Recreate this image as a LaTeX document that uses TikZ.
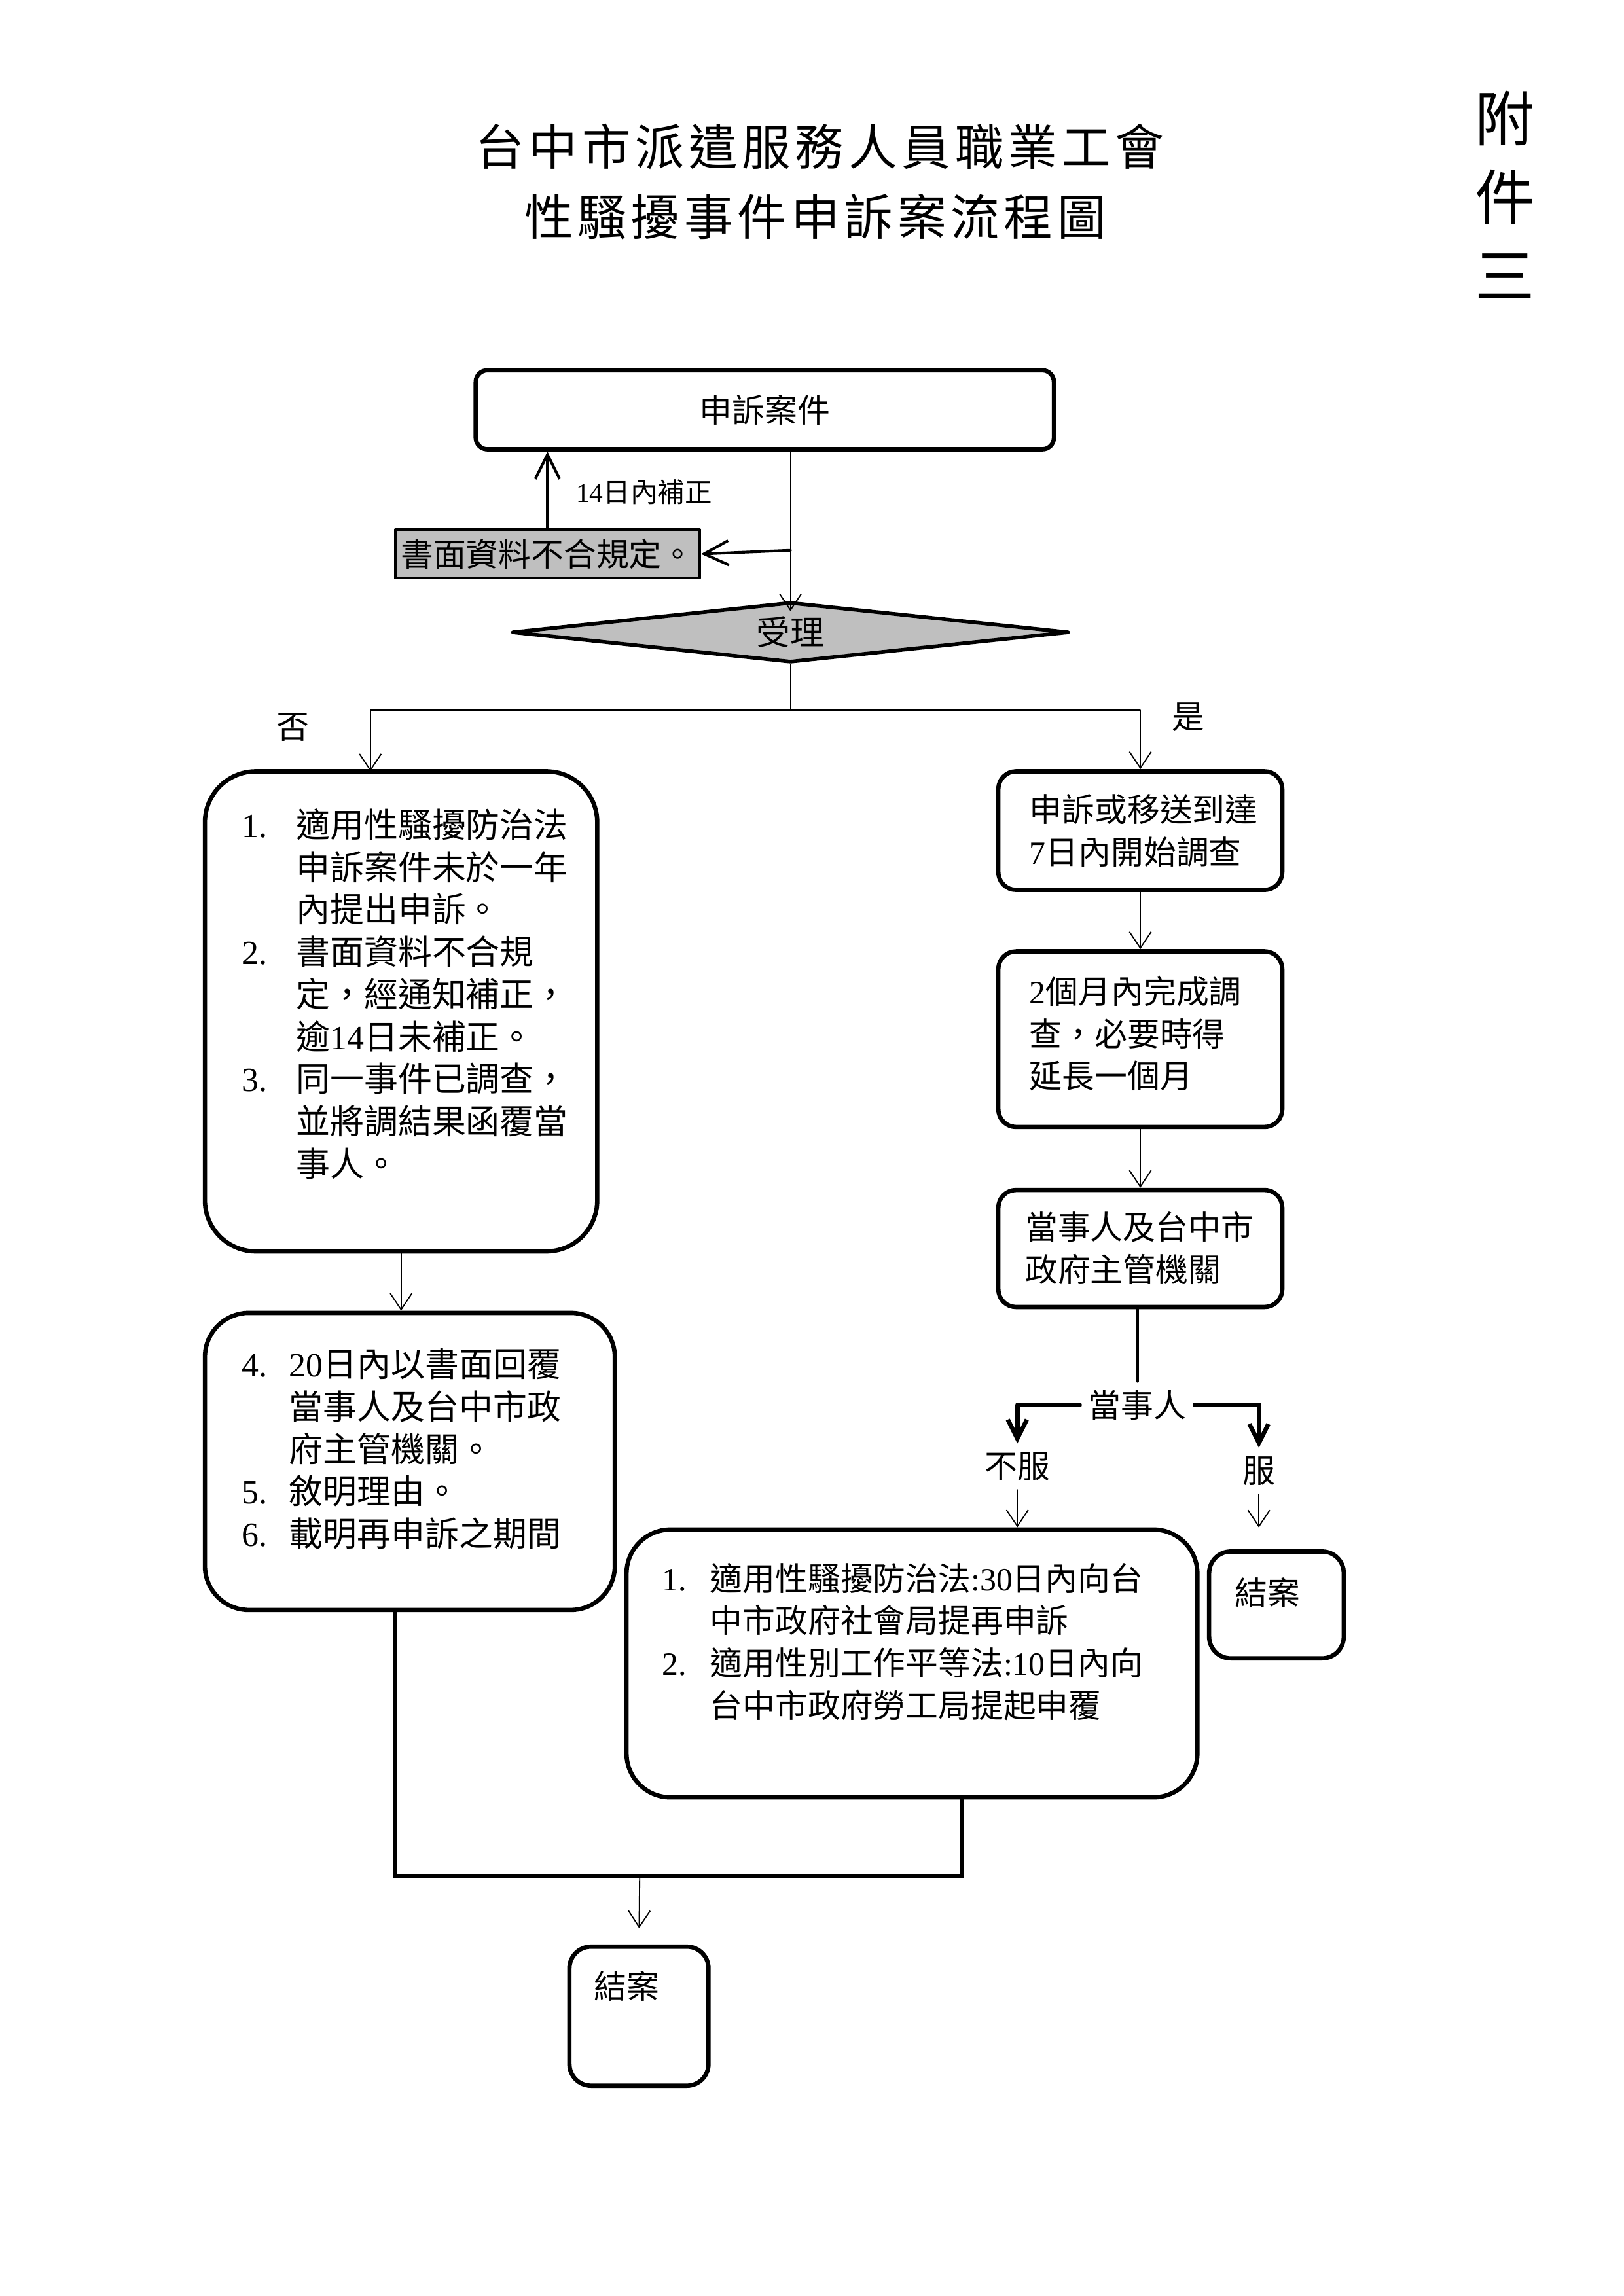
\documentclass[tikz,border=0pt]{standalone}
\usepackage{fontspec}
\setmainfont{Noto Sans CJK TC}
\newfontfamily\tnr{Liberation Serif}
\newfontfamily\titlefont[LetterSpace=9]{Noto Sans CJK TC}
\usepackage{tikz}
\usetikzlibrary{arrows.meta}
\usetikzlibrary{shapes.geometric}
\usetikzlibrary{fit}

\begin{document}
\begin{tikzpicture}[line cap=round,line join=round,x=0.018936cm,y=-0.018936cm,
  box/.style={draw,line width=1.6pt,rounded corners=#1,inner sep=0pt},
  box/.default=4pt,
  greybox/.style={draw,line width=1pt,fill=black!25,inner sep=0pt},
  txt/.style={inner sep=0pt,font=\fontsize{12}{15.6}\selectfont},
  bigtxt/.style={inner sep=0pt,font=\fontsize{12.5}{15.6}\selectfont},
  lbl/.style={inner sep=3pt,font=\fontsize{12}{15.6}\selectfont},
  titletxt/.style={inner sep=0pt,font=\titlefont\fontsize{18}{22}\selectfont},
  arr/.style={-{Straight Barb[length=6pt,width=8pt]},line width=0.45pt},
  arrbig/.style={-{Straight Barb[length=9pt,width=9pt]},line width=1pt},
  arrbold/.style={-{Straight Barb[length=7pt,width=7pt]},line width=1.6pt},
  joinline/.style={line width=1.7pt,line cap=butt}]
%  \draw[step=50,gray,very thin] (0,0) grid (1109,1568);

\useasboundingbox (0,0) rectangle (1109,1568.7);

\node[titletxt] (title1) at (560,100) {台中市派遣服務人員職業工會};
\node[titletxt] (title2) at (557,148) {性騷擾事件申訴案流程圖};
\node[inner sep=0pt,align=center,font=\fontsize{22}{29}\selectfont] (annex) at (1028,133) {附\\件\\三};

% top part
\node[box=4.3pt,fit={(325,253) (720,307)}] (case) {};
\node[txt] (casetext) at (case.center) {申訴案件};

\node[greybox,fit={(270,362) (478,395)}] (doc) {};
\node[txt] (doctext) at (doc.center) {書面資料不合規定。};

\node[diamond,draw,line width=1.35pt,fill=black!25,minimum width=7.2cm,minimum height=0.78cm,inner sep=0pt] (accept) at (540,432) {};
\node[bigtxt] (accepttext) at (accept.center) {受理};

\node[inner sep=0pt,font=\fontsize{10}{12}\selectfont] (within) at (440,336) {{\tnr 14}日內補正};

% left branch
\node[box=0.66cm,fit={(140,527) (408,855)}] (rule1) {};
\node[bigtxt,anchor=north west] (rule1text) at (165,551.5) {%
\begin{tabular}{@{}p{0.70cm}@{}l@{}}
{\tnr 1.} & 適用性騷擾防治法\\
 & 申訴案件未於一年\\
 & 內提出申訴。\\
{\tnr 2.} & 書面資料不合規\\
 & 定，經通知補正，\\
 & 逾{\tnr 14}日未補正。\\
{\tnr 3.} & 同一事件已調查，\\
 & 並將調結果函覆當\\
 & 事人。
\end{tabular}};

\node[box=0.57cm,fit={(140,897) (420,1100)}] (reply) {};
\node[bigtxt,anchor=north west] (replytext) at (165,920) {%
\begin{tabular}{@{}p{0.61cm}@{}l@{}}
{\tnr 4.} & {\tnr 20}日內以書面回覆\\
 & 當事人及台中市政\\
 & 府主管機關。\\
{\tnr 5.} & 敘明理由。\\
{\tnr 6.} & 載明再申訴之期間
\end{tabular}};

% right branch
\node[box=0.23cm,fit={(682,527) (876,608)}] (start) {};
\node[txt,anchor=north west] (starttext) at (703,541) {%
\begin{tabular}{@{}l@{}}
申訴或移送到達\\
{\tnr 7}日內開始調查
\end{tabular}};

\node[box=0.23cm,fit={(682,650) (876,770)}] (invest) {};
\node[txt,anchor=north west] (investtext) at (703,665) {%
\begin{tabular}{@{}l@{}}
{\tnr 2}個月內完成調\\
查，必要時得\\
延長一個月
\end{tabular}};

\node[box=0.23cm,fit={(682,813) (876,893)}] (notify) {};
\node[txt,anchor=north west] (notifytext) at (700,826) {%
\begin{tabular}{@{}l@{}}
當事人及台中市\\
政府主管機關
\end{tabular}};

\node[box=0.57cm,fit={(428,1045) (818,1228)}] (appeal) {};
\node[txt,anchor=north west] (appealtext) at (452,1066) {%
\begin{tabular}{@{}p{0.62cm}@{}l@{}}
{\tnr 1.} & 適用性騷擾防治法{\tnr :30}日內向台\\
 & 中市政府社會局提再申訴\\
{\tnr 2.} & 適用性別工作平等法{\tnr :10}日內向\\
 & 台中市政府勞工局提起申覆
\end{tabular}};

\node[box=0.28cm,fit={(826,1060) (918,1133)}] (closeA) {};
\node[txt] (closeAtext) at (866,1088) {結案};

\node[box=0.28cm,fit={(389,1330) (484,1425)}] (closeB) {};
\node[txt] (closeBtext) at (428,1357) {結案};

% labels
\node[lbl] (no) at (200,497) {否};
\node[lbl] (yes) at (812,490) {是};
\node[lbl] (party) at (777,960) {當事人};
\node[lbl] (disagree) at (695,1002) {不服};
\node[lbl] (agree) at (860,1005) {服};

\coordinate (fix) at (540,376);
\coordinate (split) at (540,485);
\coordinate (noin) at (253,527);
\coordinate (jl) at (270,1282);
\coordinate (jr) at (657,1282);
\coordinate (merge) at (437,1282);

\draw[arr,shorten >=-4pt] (case.south -| accept.north) -- (accept.north);
\draw[arrbig] (fix) -- (doc.east);
\draw[arrbig] (doc.north) -- (doc.north |- case.south);

\draw[line width=0.45pt] (accept.south) -- (split);
\draw[arr] (split) -| (noin);
\draw[arr] (split) -| (start.north);

\draw[arr] (rule1.south) -- (rule1.south |- reply.north);
\draw[arr] (start.south) -- (invest.north);
\draw[arr] (invest.south) -- (notify.north);

\draw[line width=1pt] (party.north |- notify.south) -- (party.north);
\draw[arrbold] (party.west) -| (disagree.north);
\draw[arrbold] (party.east) -| (agree.north);
\draw[arr] (disagree.south) -- (disagree.south |- appeal.north);
\draw[arr,shorten >=8pt] (agree.south) -- (agree.south |- closeA.north);

\draw[joinline] (reply.south -| jl) -- (jl) -- (jr) -- (appeal.south -| jr);
\draw[arr,shorten >=6pt] (merge) -- (closeB.north);

\end{tikzpicture}
\end{document}
